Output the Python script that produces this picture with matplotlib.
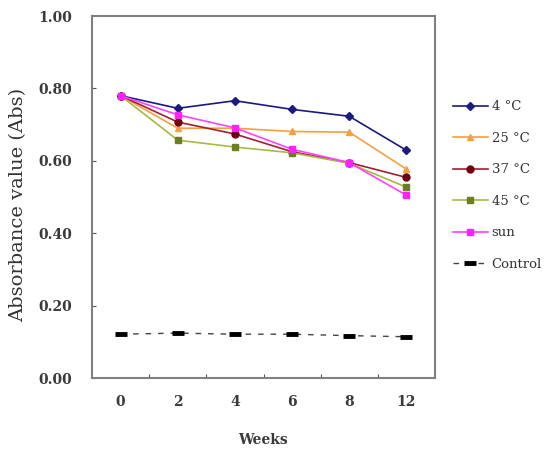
import matplotlib
matplotlib.use("Agg")
import matplotlib.pyplot as plt
import numpy as np

weeks = ["0", "2", "4", "6", "8", "12"]
t4 = [0.780, 0.745, 0.766, 0.742, 0.723, 0.629]
t25 = [0.780, 0.690, 0.690, 0.681, 0.679, 0.577]
t37 = [0.780, 0.707, 0.674, 0.625, 0.595, 0.554]
t45 = [0.780, 0.657, 0.638, 0.622, 0.593, 0.527]
sun = [0.780, 0.727, 0.691, 0.632, 0.595, 0.505]
control = [0.121, 0.124, 0.121, 0.121, 0.117, 0.114]

x = np.arange(len(weeks))

fig = plt.figure(figsize=(5.5, 4.5), dpi=100)
ax = fig.add_axes([92/550, 72/450, 343/550, 362/450])

ax.plot(x, t4, color="#1a1a80", marker="D", markersize=4, lw=1.2, label="4 °C")
ax.plot(x, t25, color="#f5a040", marker="^", markersize=5, lw=1.2, label="25 °C")
ax.plot(x, t37, color="#a02030", marker="o", markersize=5, lw=1.2,
        markerfacecolor="#700010", markeredgecolor="#700010", label="37 °C")
ax.plot(x, t45, color="#a8b840", marker="s", markersize=5, lw=1.2,
        markerfacecolor="#6b7f20", markeredgecolor="#6b7f20", label="45 °C")
ax.plot(x, sun, color="#ff40ff", marker="s", markersize=5, lw=1.2,
        markerfacecolor="#ff20ff", markeredgecolor="#ff20ff", label="sun")
ax.plot(x, control, color="#444444", ls=(0, (4, 5)), lw=1.0, marker="_",
        markersize=8, markeredgewidth=3.5, markeredgecolor="black", label="Control")

ax.set_xlim(-0.5, 5.5)
ax.set_ylim(0, 1.0)

tick_color = "#3a3a3a"
ax.set_xticks(np.arange(0.5, 5, 1))
ax.set_xticklabels([])
ax.set_xticks(x, minor=True)
ax.set_xticklabels(weeks, minor=True, family="DejaVu Serif", fontweight="bold",
                   fontsize=10, color=tick_color)
ax.tick_params(axis="x", which="major", direction="in", length=3, color="#555555")
ax.tick_params(axis="x", which="minor", length=0, pad=12)

ax.set_yticks(np.arange(0, 1.01, 0.2))
ax.set_yticklabels(["%.2f" % v for v in np.arange(0, 1.01, 0.2)],
                   family="DejaVu Serif", fontweight="bold", fontsize=10, color=tick_color)
ax.tick_params(axis="y", direction="in", length=3, color="#555555", pad=14)

for s in ax.spines.values():
    s.set_color("#808080")
    s.set_linewidth(1.5)

fig.text(18/550, 1 - 205/450, "Absorbance value (Abs)", rotation=90, ha="center", va="center",
         family="DejaVu Serif", fontsize=14, color="#333333")
fig.text(263/550, 1 - 440/450, "Weeks", ha="center", va="center",
         family="DejaVu Serif", fontweight="bold", fontsize=10, color=tick_color)

fig.legend(loc="upper left", bbox_to_anchor=(448/550, 1 - 95/450), frameon=False,
           prop={"family": "DejaVu Serif", "size": 9.5}, labelspacing=1.4,
           handlelength=2.6, handletextpad=0.3, borderaxespad=0, labelcolor="#333333")

fig.savefig("out.png", dpi=100)
